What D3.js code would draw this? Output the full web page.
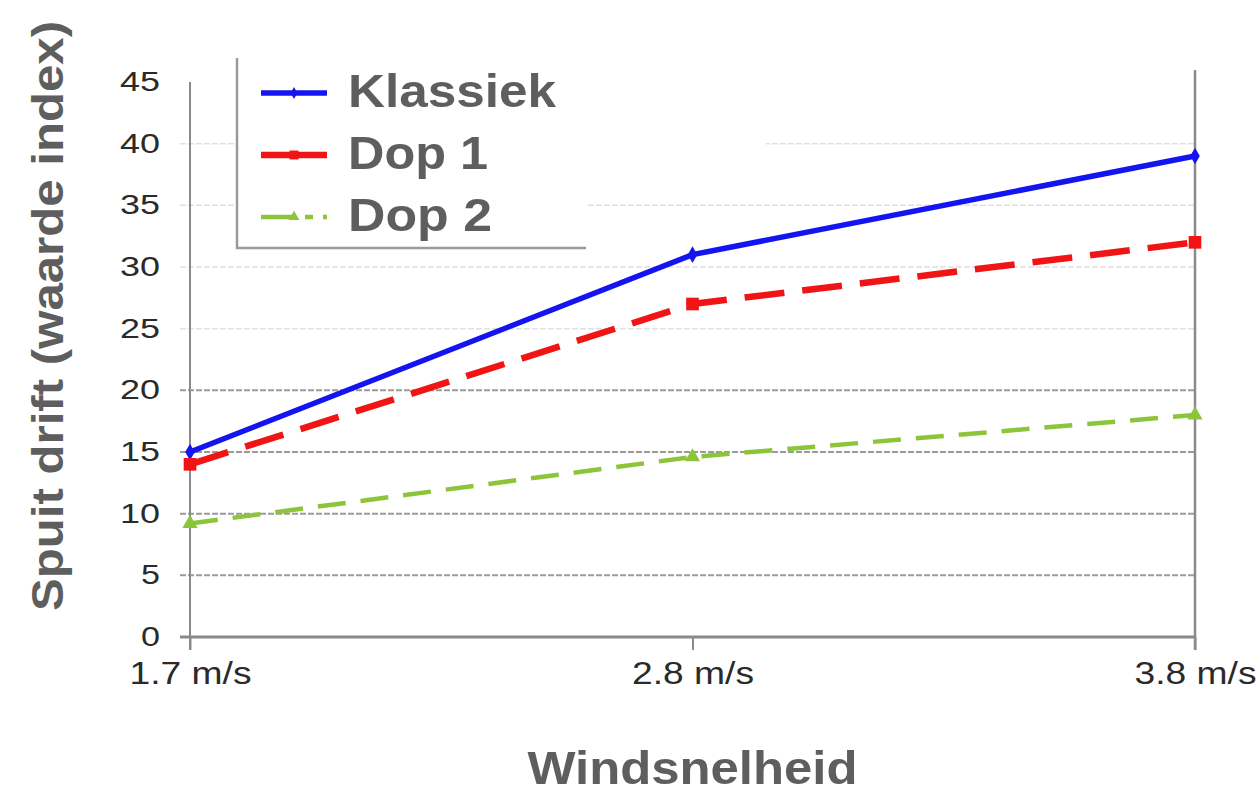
<!DOCTYPE html>
<head>
    <script src="https://d3js.org/d3.v7.min.js"></script>
    <style>
        body {margin: 0; background: white;}
        text {font-family: "Liberation Sans", Arial, sans-serif;}
        .tick text {fill: #2a2a2a;}
        .title {fill: #5e5e5e; font-weight: bold;}
    </style>
</head>
<body>
</body>
<script>
  const categories = ["1.7 m/s", "2.8 m/s", "3.8 m/s"],
        klassiek = [15, 31, 39],
        dop1 = [14, 27, 32],
        dop2 = [9.2, 14.6, 18],
        yTicks = [0, 5, 10, 15, 20, 25, 30, 35, 40, 45];

  const width = 1260,
        height = 796;

  const series = [
    {name: "Klassiek", values: klassiek, color: "#1414f0", width: 5.5, dash: null, marker: "diamond", labelWidth: 208},
    {name: "Dop 1", values: dop1, color: "#f01414", width: 6.5, dash: "40,18", marker: "square", labelWidth: 140},
    {name: "Dop 2", values: dop2, color: "#8cc43a", width: 4.5, dash: "28,15", marker: "triangle", labelWidth: 144}
  ];

  const x = d3.scalePoint()
          .domain(categories)
          .range([190, 1195]);

  const y = d3.scaleLinear()
          .domain([0, 45])
          .range([637, 82]);

  const svg = d3.select("body").append("svg")
          .attr("width", width)
          .attr("height", height);

  // horizontal grid lines, the lower ones darker like the source picture
  svg.append("g")
    .selectAll("line")
    .data(yTicks.filter(d => d > 0 && d < 45))
    .enter().append("line")
      .attr("x1", 180)
      .attr("x2", x.range()[1])
      .attr("y1", d => y(d))
      .attr("y2", d => y(d))
      .attr("stroke", d => d <= 20 ? "#9a9a9a" : "#e0e0e0")
      .attr("stroke-width", d => d <= 20 ? 2 : 1.5)
      .attr("stroke-dasharray", "6,2");

  // y tick labels
  const yAxis = svg.append("g")
          .attr("transform", "translate(190,0)")
          .call(d3.axisLeft(y).tickValues(yTicks).tickSize(0).tickPadding(30));
  yAxis.select(".domain").remove();
  yAxis.selectAll("text")
    .attr("font-size", 27)
    .attr("textLength", d => d < 10 ? 19 : 40)
    .attr("lengthAdjust", "spacingAndGlyphs");

  // left and right vertical lines
  svg.append("line")
    .attr("x1", 190).attr("x2", 190)
    .attr("y1", y(45)).attr("y2", 650)
    .attr("stroke", "#8a8a8a").attr("stroke-width", 2);
  svg.append("line")
    .attr("x1", 1195).attr("x2", 1195)
    .attr("y1", 70).attr("y2", 650)
    .attr("stroke", "#8a8a8a").attr("stroke-width", 2.5);

  // x axis
  const xAxis = svg.append("g")
          .attr("transform", `translate(0,${ y(0) })`)
          .call(d3.axisBottom(x).tickSize(13).tickPadding(14).tickSizeOuter(0));
  xAxis.select(".domain")
    .attr("stroke", "#8a8a8a")
    .attr("stroke-width", 3)
    .attr("d", `M180,0H${ x.range()[1] }`);
  xAxis.selectAll(".tick line").attr("stroke", "#8a8a8a").attr("stroke-width", 2);
  xAxis.selectAll("text")
    .attr("font-size", 31)
    .attr("dy", "0.65em")
    .attr("textLength", 122)
    .attr("lengthAdjust", "spacingAndGlyphs");

  const symbolType = {diamond: d3.symbolDiamond, square: d3.symbolSquare, triangle: d3.symbolTriangle};
  const symbolSize = {diamond: 80, square: 160, triangle: 100};

  const line = d3.line()
          .x((d, i) => x(categories[i]))
          .y(d => y(d));

  // series lines and markers
  series.forEach(s => {
    svg.append("path")
      .datum(s.values)
      .attr("d", line)
      .attr("fill", "none")
      .attr("stroke", s.color)
      .attr("stroke-width", s.width)
      .attr("stroke-dasharray", s.dash);

    svg.append("g")
      .selectAll("path")
      .data(s.values)
      .enter().append("path")
        .attr("d", d3.symbol().type(symbolType[s.marker]).size(symbolSize[s.marker]))
        .attr("transform", (d, i) => `translate(${ x(categories[i]) },${ y(d) })`)
        .attr("fill", s.color);
  });

  // legend box, pasted on top of the chart
  svg.append("rect")
    .attr("x", 236).attr("y", 58)
    .attr("width", 530).attr("height", 100)
    .attr("fill", "white");
  svg.append("rect")
    .attr("x", 236).attr("y", 58)
    .attr("width", 350).attr("height", 190)
    .attr("fill", "white");
  svg.append("path")
    .attr("d", "M237,58V248H586")
    .attr("fill", "none")
    .attr("stroke", "#9a9a9a")
    .attr("stroke-width", 2.5);

  const legend = svg.append("g")
          .selectAll("g")
          .data(series)
          .enter().append("g")
          .attr("transform", (d, i) => `translate(261,${ 93 + i * 62 })`);

  legend.append("line")
    .attr("x1", 0).attr("x2", 66)
    .attr("stroke", d => d.color)
    .attr("stroke-width", d => d.width)
    .attr("stroke-dasharray", d => d.name === "Dop 2" ? "34,10,8,10" : null);
  legend.append("path")
    .attr("d", d => d3.symbol().type(symbolType[d.marker]).size(symbolSize[d.marker] * 0.5)())
    .attr("transform", "translate(33,0)")
    .attr("fill", d => d.color);
  legend.append("text")
    .attr("class", "title")
    .attr("x", 87)
    .attr("y", 14)
    .attr("font-size", 47)
    .attr("textLength", d => d.labelWidth)
    .attr("lengthAdjust", "spacingAndGlyphs")
    .text(d => d.name);

  // axis titles
  svg.append("text")
    .attr("class", "title")
    .attr("transform", "translate(63,316) rotate(-90)")
    .attr("text-anchor", "middle")
    .attr("font-size", 45)
    .attr("textLength", 590)
    .attr("lengthAdjust", "spacingAndGlyphs")
    .text("Spuit drift (waarde index)");

  svg.append("text")
    .attr("class", "title")
    .attr("x", x(categories[1]))
    .attr("y", 784)
    .attr("text-anchor", "middle")
    .attr("font-size", 46)
    .attr("textLength", 330)
    .attr("lengthAdjust", "spacingAndGlyphs")
    .text("Windsnelheid");
</script>
